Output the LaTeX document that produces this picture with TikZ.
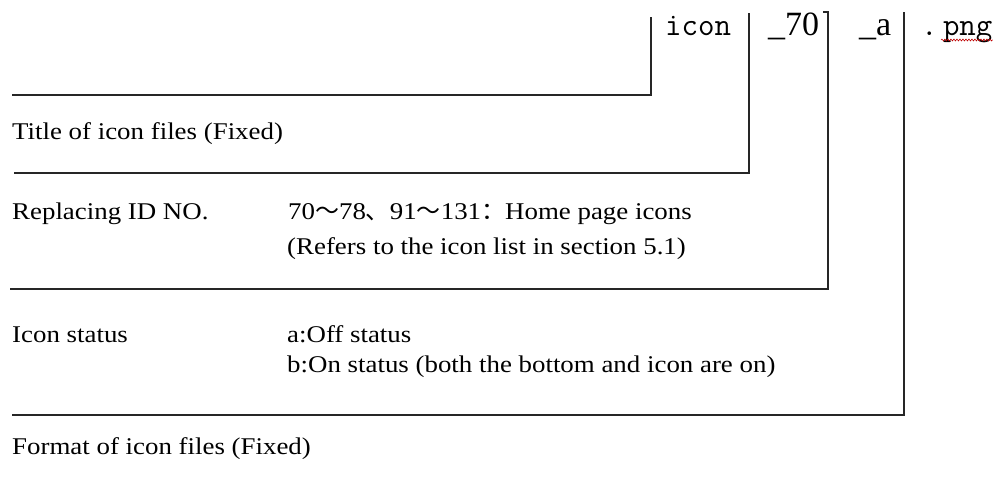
\documentclass[tikz,border=0pt]{standalone}
\usepackage{fontspec}
\setmainfont{Liberation Serif}[FakeStretch=1.12]
\newfontfamily\cjk{Noto Sans CJK SC}
\newfontfamily\topserif{Liberation Serif}
\usetikzlibrary{decorations.pathmorphing}
\tikzset{
  lbl/.style={anchor=base west, inner sep=0pt, font=\fontsize{24}{28}\selectfont},
  topmono/.style={anchor=base west, inner sep=0pt, font=\fontsize{32}{38}\selectfont\ttfamily},
  topser/.style={anchor=base west, inner sep=0pt, font=\fontsize{34}{40}\selectfont\topserif},
  bracket/.style={draw=black!85, line width=1.4pt},
  squiggle/.style={draw=red!75!black, line width=0.6pt, decorate, decoration={snake, amplitude=0.9pt, segment length=3pt}}
}
\begin{document}
\begin{tikzpicture}[x=1pt,y=-1pt]
\useasboundingbox (0,0) rectangle (1002,491);

% top file name parts
\node[topmono] (icon) at (665,35) {icon};
\node[topser] (seventy) at (768,35) {\_70};
\node[topser] (suffix) at (859,35) {\_a};
\node[topmono] (png) at (921,35) {.\,png};
\draw[squiggle] ([xshift=20pt,yshift=-5pt]png.base west) -- ([yshift=-5pt]png.base east);

% labels
\node[lbl] (title) at (12,139) {Title of icon files (Fixed)};
\node[lbl] (rid) at (12,219) {Replacing ID NO.};
\node[lbl] (ridval) at (288,219) {70{\cjk ～}78{\cjk 、}91{\cjk ～}131{\cjk ：}Home page icons};
\node[lbl] (ridref) at (287,254) {(Refers to the icon list in section 5.1)};
\node[lbl] (st) at (12,342) {Icon status};
\node[lbl] (sta) at (287,342) {a:Off status};
\node[lbl] (stb) at (287,372) {b:On status (both the bottom and icon are on)};
\node[lbl] (fmt) at (12,454) {Format of icon files (Fixed)};

% brackets
\coordinate (b1s) at (12,95);  \coordinate (b1c) at (651,95);  \coordinate (b1e) at (651,17);
\coordinate (b2s) at (14,173); \coordinate (b2c) at (749,173); \coordinate (b2e) at (749,13);
\coordinate (b3s) at (10,289); \coordinate (b3c) at (828,289); \coordinate (b3e) at (828,12); \coordinate (b3t) at (823,12);
\coordinate (b4s) at (12,415); \coordinate (b4c) at (904,415); \coordinate (b4e) at (904,12);
\draw[bracket] (b1s) -- (b1c) -- (b1e);
\draw[bracket] (b2s) -- (b2c) -- (b2e);
\draw[bracket] (b3s) -- (b3c) -- (b3e) -- (b3t);
\draw[bracket] (b4s) -- (b4c) -- (b4e);
\end{tikzpicture}
\end{document}
